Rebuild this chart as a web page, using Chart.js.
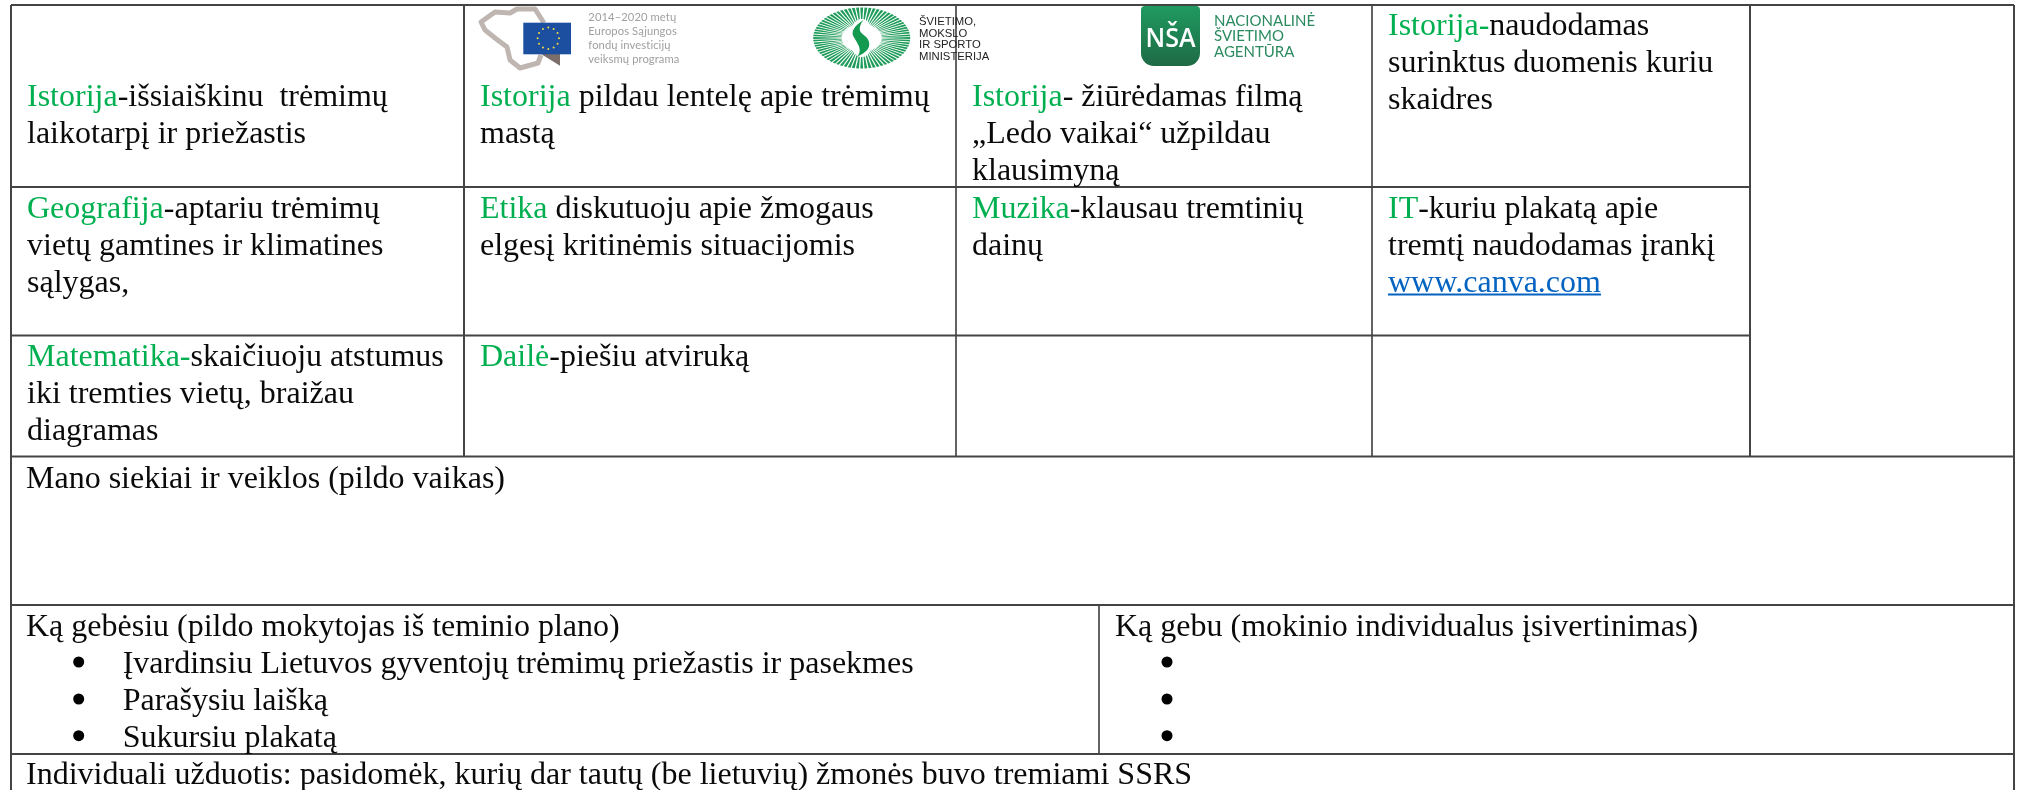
<!DOCTYPE html>
<html lang="lt">
<head>
    <meta charset="UTF-8">
    <title>Veiklų lentelė</title>
    <script src="https://cdn.jsdelivr.net/npm/chart.js"></script>
    <style>
        body { margin: 0; background: #fff; }
        #wrap { width: 2017px; height: 790px; }
    </style>
</head>
<body>
    <div id="wrap"><canvas id="tableChart"></canvas></div>
    <script>
        // table text
        const subjects = ['Istorija', 'Istorija', 'Istorija', 'Istorija-',
            'Geografija', 'Etika', 'Muzika', 'IT',
            'Matematika-', 'Dailė'];
        const activities = [
            ['-išsiaiškinu  trėmimų', 'laikotarpį ir priežastis'],
            [' pildau lentelę apie trėmimų', 'mastą'],
            ['- žiūrėdamas filmą', '„Ledo vaikai“ užpildau', 'klausimyną'],
            ['naudodamas', 'surinktus duomenis kuriu', 'skaidres'],
            ['-aptariu trėmimų', 'vietų gamtines ir klimatines', 'sąlygas,'],
            [' diskutuoju apie žmogaus', 'elgesį kritinėmis situacijomis'],
            ['-klausau tremtinių', 'dainų'],
            ['-kuriu plakatą apie', 'tremtį naudodamas įrankį'],
            ['skaičiuoju atstumus', 'iki tremties vietų, braižau', 'diagramas'],
            ['-piešiu atviruką']
        ];
        const linkText = 'www.canva.com';
        const wideRows = ['Mano siekiai ir veiklos (pildo vaikas)',
            'Ką gebėsiu (pildo mokytojas iš teminio plano)',
            'Ką gebu (mokinio individualus įsivertinimas)',
            'Individuali užduotis: pasidomėk, kurių dar tautų (be lietuvių) žmonės buvo tremiami SSRS'];
        const skills = ['Įvardinsiu Lietuvos gyventojų trėmimų priežastis ir pasekmes', 'Parašysiu laišką', 'Sukursiu plakatą'];
        const euLogoLines = ['2014–2020 metų', 'Europos Sąjungos', 'fondų investicijų', 'veiksmų programa'];
        const smmLogoLines = ['ŠVIETIMO,', 'MOKSLO', 'IR SPORTO', 'MINISTERIJA'];
        const nsaLogoLines = ['NACIONALINĖ', 'ŠVIETIMO', 'AGENTŪRA'];

        // table geometry, in scale units
        const columnEdges = [11, 464, 956, 1372, 1750, 2014];
        const rowEdges = [5, 187, 335.5, 456.5, 605, 754, 790];
        const splitEdge = 1099;
        const firstBaselines = [106, 106, 106, 34.5, 217.5, 217.5, 217.5, 217.5, 365.5, 365.5];
        const cellColumns = [0, 1, 2, 3, 0, 1, 2, 3, 0, 1];
        const wideAnchors = [[26, 488.3], [26, 636], [1115, 636], [26, 784.3]];
        const bulletRows = [662, 699, 735.7];
        const bulletColumns = [78.7, 1167];

        const lineHeight = 37;
        const serif = '"Liberation Serif"';
        const green = '#00b050';
        const textColor = '#0a0a0a';

        function rule(x1, y1, x2, y2) {
            return [{ x: x1, y: y1 }, { x: x2, y: y2 }, { x: null, y: null }];
        }

        const rules = [];
        const thinRules = [];
        // outer frame and the full width rows, the table has no line at the bottom
        [0, 3, 4, 5].forEach(i => rules.push(...rule(columnEdges[0], rowEdges[i], columnEdges[5], rowEdges[i])));
        [1, 2].forEach(i => rules.push(...rule(columnEdges[0], rowEdges[i], columnEdges[4], rowEdges[i])));
        [0, 5].forEach(i => rules.push(...rule(columnEdges[i], rowEdges[0], columnEdges[i], rowEdges[6])));
        [1, 4].forEach(i => rules.push(...rule(columnEdges[i], rowEdges[0], columnEdges[i], rowEdges[3])));
        [2, 3].forEach(i => thinRules.push(...rule(columnEdges[i], rowEdges[0], columnEdges[i], rowEdges[3])));
        thinRules.push(...rule(splitEdge, rowEdges[4], splitEdge, rowEdges[5]));

        const bullets = [];
        bulletColumns.forEach(x => bulletRows.forEach(y => bullets.push({ x, y })));

        function drawTextPlugin(chart) {
            const { ctx, scales } = chart;
            const px = v => scales.x.getPixelForValue(v);
            const py = v => scales.y.getPixelForValue(v);
            ctx.save();
            ctx.font = '32px ' + serif;
            ctx.textBaseline = 'alphabetic';

            subjects.forEach((subject, i) => {
                const x = px(columnEdges[cellColumns[i]] + 16);
                const y = firstBaselines[i];
                ctx.fillStyle = green;
                ctx.fillText(subject, x, py(y));
                const w = ctx.measureText(subject).width;
                ctx.fillStyle = textColor;
                activities[i].forEach((line, j) => {
                    ctx.fillText(line, j === 0 ? x + w : x, py(y + j * lineHeight));
                });
            });

            // link under the IT cell
            const linkX = px(columnEdges[3] + 16);
            const linkY = py(firstBaselines[7] + 2 * lineHeight);
            ctx.fillStyle = '#0563c1';
            ctx.fillText(linkText, linkX, linkY);
            ctx.fillRect(linkX, linkY + 2, ctx.measureText(linkText).width, 2);

            ctx.fillStyle = textColor;
            wideRows.forEach((line, i) => ctx.fillText(line, px(wideAnchors[i][0]), py(wideAnchors[i][1])));
            skills.forEach((line, i) => ctx.fillText(line, px(122.7), py(wideAnchors[1][1] + (i + 1) * lineHeight)));
            ctx.restore();
        }

        function drawLogos(chart) {
            const { ctx, scales } = chart;
            const px = v => scales.x.getPixelForValue(v);
            const py = v => scales.y.getPixelForValue(v);
            ctx.save();

            // EU logo: outline of Lithuania, flag, grey tail
            ctx.strokeStyle = '#bfb6b2';
            ctx.lineWidth = 5;
            ctx.lineJoin = 'round';
            ctx.beginPath();
            const outline = [[544, 23], [535, 9], [517, 9], [510, 13], [495, 12], [481, 22], [485, 30], [495, 38], [507, 47], [510, 60], [520, 68], [538, 63], [541, 55]];
            outline.forEach((p, i) => i ? ctx.lineTo(px(p[0]), py(p[1])) : ctx.moveTo(px(p[0]), py(p[1])));
            ctx.stroke();
            ctx.fillStyle = '#7c6f6b';
            ctx.beginPath();
            ctx.moveTo(px(541), py(54));
            ctx.lineTo(px(560), py(54));
            ctx.lineTo(px(560), py(65.7));
            ctx.closePath();
            ctx.fill();
            ctx.fillStyle = '#1c4f9f';
            ctx.fillRect(px(523.3), py(22.7), 47.7, 31.6);
            ctx.fillStyle = '#f5dc3a';
            for (let a = 0; a < 12; a++) {
                const t = a * Math.PI / 6;
                ctx.beginPath();
                ctx.arc(px(548.3) + 10.7 * Math.cos(t), py(38.3) + 10.7 * Math.sin(t), 1, 0, 7);
                ctx.fill();
            }
            ctx.fillStyle = '#a0a0a0';
            ctx.font = '11.2px Lato';
            ctx.letterSpacing = '0.1px';
            euLogoLines.forEach((line, i) => ctx.fillText(line, px(588.3), py(20.7 + i * 14.2)));
            ctx.letterSpacing = '0px';

            // ministry logo: ring of rays with the S in the middle
            const cx = px(861.7), cy = py(38);
            ctx.fillStyle = '#1f9c5a';
            for (let a = 0; a < 72; a++) {
                const t = a * Math.PI / 36;
                const d = 0.03;
                ctx.beginPath();
                ctx.moveTo(cx + 20 * Math.cos(t - d / 2), cy + 14 * Math.sin(t - d / 2));
                ctx.lineTo(cx + 48.5 * Math.cos(t - d), cy + 30.5 * Math.sin(t - d));
                ctx.lineTo(cx + 48.5 * Math.cos(t + d), cy + 30.5 * Math.sin(t + d));
                ctx.lineTo(cx + 20 * Math.cos(t + d / 2), cy + 14 * Math.sin(t + d / 2));
                ctx.closePath();
                ctx.fill();
            }
            ctx.fillStyle = '#fff';
            ctx.beginPath();
            ctx.ellipse(cx, cy, 12, 19, 0, 0, 7);
            ctx.fill();
            ctx.fillStyle = '#139a50';
            ctx.beginPath();
            ctx.moveTo(cx + 2, cy - 18);
            ctx.bezierCurveTo(cx - 8, cy - 12, cx - 11, cy - 6, cx - 8, cy - 1);
            ctx.bezierCurveTo(cx - 5, cy + 4, cx - 2, cy + 8, cx - 2, cy + 12);
            ctx.bezierCurveTo(cx - 2, cy + 15, cx - 3, cy + 17, cx - 5, cy + 19);
            ctx.bezierCurveTo(cx + 6, cy + 14, cx + 9, cy + 9, cx + 7, cy + 3);
            ctx.bezierCurveTo(cx + 5, cy - 3, cx - 2, cy - 4, cx - 2, cy - 9);
            ctx.bezierCurveTo(cx - 2, cy - 13, cx, cy - 16, cx + 2, cy - 18);
            ctx.fill();
            ctx.fillStyle = '#222';
            ctx.font = '11.3px "Liberation Sans"';
            smmLogoLines.forEach((line, i) => ctx.fillText(line, px(919), py(25 + i * 11.5)));

            // agency logo
            const grad = ctx.createLinearGradient(0, py(6), 0, py(66));
            grad.addColorStop(0, '#1f9a60');
            grad.addColorStop(1, '#1f6a45');
            ctx.fillStyle = grad;
            ctx.beginPath();
            ctx.roundRect(px(1141), py(6), 59, 60, [4, 4, 13, 13]);
            ctx.fill();
            ctx.fillStyle = '#fff';
            ctx.font = '600 27px "Open Sans"';
            ctx.textAlign = 'center';
            ctx.fillText('NŠA', px(1170.5), py(46.7), 50);
            ctx.textAlign = 'left';
            ctx.fillStyle = '#2b8a5f';
            ctx.font = '15px Lato';
            nsaLogoLines.forEach((line, i) => ctx.fillText(line, px(1214), py(26 + i * 15.3)));
            ctx.restore();
        }

        new Chart(document.getElementById('tableChart').getContext('2d'), {
            type: 'scatter',
            data: {
                datasets: [
                    {
                        label: 'Linijos',
                        data: rules,
                        showLine: true,
                        spanGaps: false,
                        borderColor: '#444',
                        borderWidth: 2,
                        pointRadius: 0,
                        tension: 0
                    },
                    {
                        label: 'Plonos linijos',
                        data: thinRules,
                        showLine: true,
                        spanGaps: false,
                        borderColor: '#222',
                        borderWidth: 1.4,
                        pointRadius: 0,
                        tension: 0
                    },
                    {
                        label: 'Punktai',
                        data: bullets,
                        pointRadius: 5.5,
                        pointBackgroundColor: '#000',
                        pointBorderWidth: 0,
                        showLine: false
                    }
                ]
            },
            options: {
                responsive: true,
                maintainAspectRatio: false,
                animation: false,
                layout: { padding: 0, autoPadding: false },
                plugins: { legend: { display: false }, tooltip: { enabled: false } },
                scales: {
                    x: { type: 'linear', min: 0, max: 2017, display: false },
                    y: { type: 'linear', min: 0, max: 790, reverse: true, display: false }
                }
            },
            plugins: [{
                id: 'tableText',
                beforeDatasetsDraw: drawLogos,
                afterDatasetsDraw: drawTextPlugin
            }]
        });
    </script>
</body>
</html>
